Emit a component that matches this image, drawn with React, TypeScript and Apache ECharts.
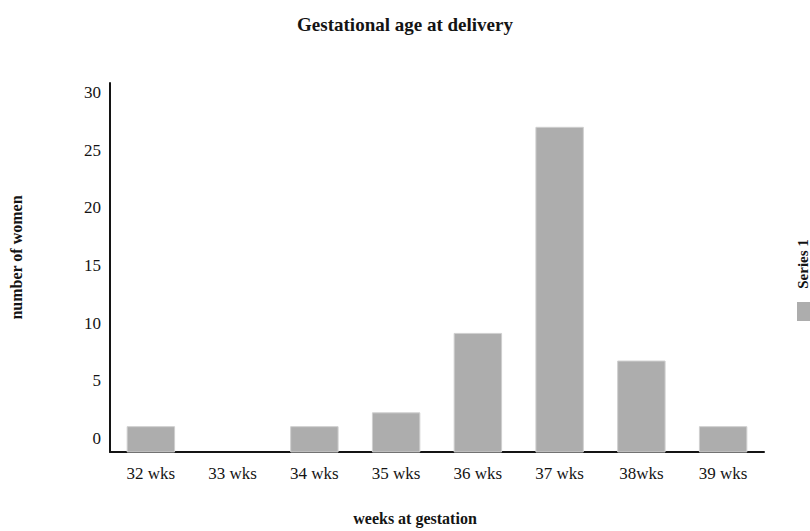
import React, { useEffect, useRef } from 'react';
import * as echarts from 'echarts';

const titleText = 'Gestational age at delivery';
const xAxisName = 'weeks at gestation';
const yAxisName = 'number of women';
const seriesName = 'Series 1';
const categories = ['32 wks', '33 wks', '34 wks', '35 wks', '36 wks', '37 wks', '38wks', '39 wks'];
const values = [1, 0, 1, 2.2, 9.1, 27, 6.7, 1];
const yTickValues = [0, 5, 10, 15, 20, 25, 30];
const Y_MIN = -1.2;
const Y_MAX = 30.85;

const FONT = '"Liberation Serif", "DejaVu Serif", serif';
const BAR_COLOR = '#adadad';
const INK = '#141414';

export default function App() {
  const ref = useRef<HTMLDivElement>(null);
  useEffect(() => {
    if (!ref.current) return;
    const chart = echarts.init(ref.current, undefined, { renderer: 'svg' });
    chart.setOption({
      animation: false,
      backgroundColor: '#ffffff',
      title: {
        text: titleText,
        left: 'center',
        top: 10,
        textStyle: { fontFamily: FONT, fontWeight: 'bold', fontSize: 19, color: INK },
      },
      grid: { left: 104, right: 46, top: 83, bottom: 74, containLabel: false },
      xAxis: {
        type: 'category',
        data: categories,
        name: xAxisName,
        nameLocation: 'middle',
        nameGap: 58,
        nameTextStyle: { fontFamily: FONT, fontWeight: 'bold', fontSize: 16, color: INK, padding: [0, 44, 0, 0] },
        axisLine: { onZero: false, lineStyle: { color: INK, width: 2 } },
        axisTick: { show: false },
        axisLabel: { fontFamily: FONT, fontSize: 17, color: INK, margin: 13, interval: 0 },
        splitLine: { show: false },
      },
      yAxis: {
        type: 'value',
        min: Y_MIN,
        max: Y_MAX,
        name: yAxisName,
        nameLocation: 'middle',
        nameRotate: 90,
        nameGap: 86,
        nameTextStyle: { fontFamily: FONT, fontWeight: 'bold', fontSize: 16, color: INK, padding: [0, 0, 0, 20] },
        axisLine: { show: true, lineStyle: { color: INK, width: 2 } },
        axisTick: { show: false },
        axisLabel: { fontFamily: FONT, fontSize: 17, color: INK, margin: 9, customValues: yTickValues },
        splitLine: { show: false },
      },
      series: [
        {
          type: 'custom',
          name: seriesName,
          data: values.map((v, i) => [i, v]),
          encode: { x: 0, y: 1 },
          renderItem: (params: any, api: any) => {
            const v = api.value(1);
            if (!(v > 0)) return null;
            const idx = api.value(0);
            const top = api.coord([idx, v]);
            const base = api.coord([idx, Y_MIN]);
            const w = api.size([1, 0])[0] * 0.58;
            return {
              type: 'rect',
              shape: { x: top[0] - w / 2, y: top[1], width: w, height: base[1] - top[1] },
              style: { fill: BAR_COLOR, stroke: '#cfcfcf', lineWidth: 1 },
            };
          },
        },
      ],
      graphic: [
        {
          type: 'text',
          x: 803,
          y: 264,
          rotation: Math.PI / 2,
          style: {
            text: seriesName,
            fontFamily: FONT,
            fontWeight: 'bold',
            fontSize: 15,
            fill: INK,
            align: 'center',
            verticalAlign: 'middle',
          },
        },
        {
          type: 'rect',
          shape: { x: 797, y: 302, width: 14, height: 19 },
          style: { fill: BAR_COLOR },
        },
      ],
    });
    return () => chart.dispose();
  }, []);
  return (
    <div
      ref={ref}
      style={{ position: 'fixed', left: 0, top: 0, width: 810, height: 531, background: '#fff' }}
    />
  );
}
